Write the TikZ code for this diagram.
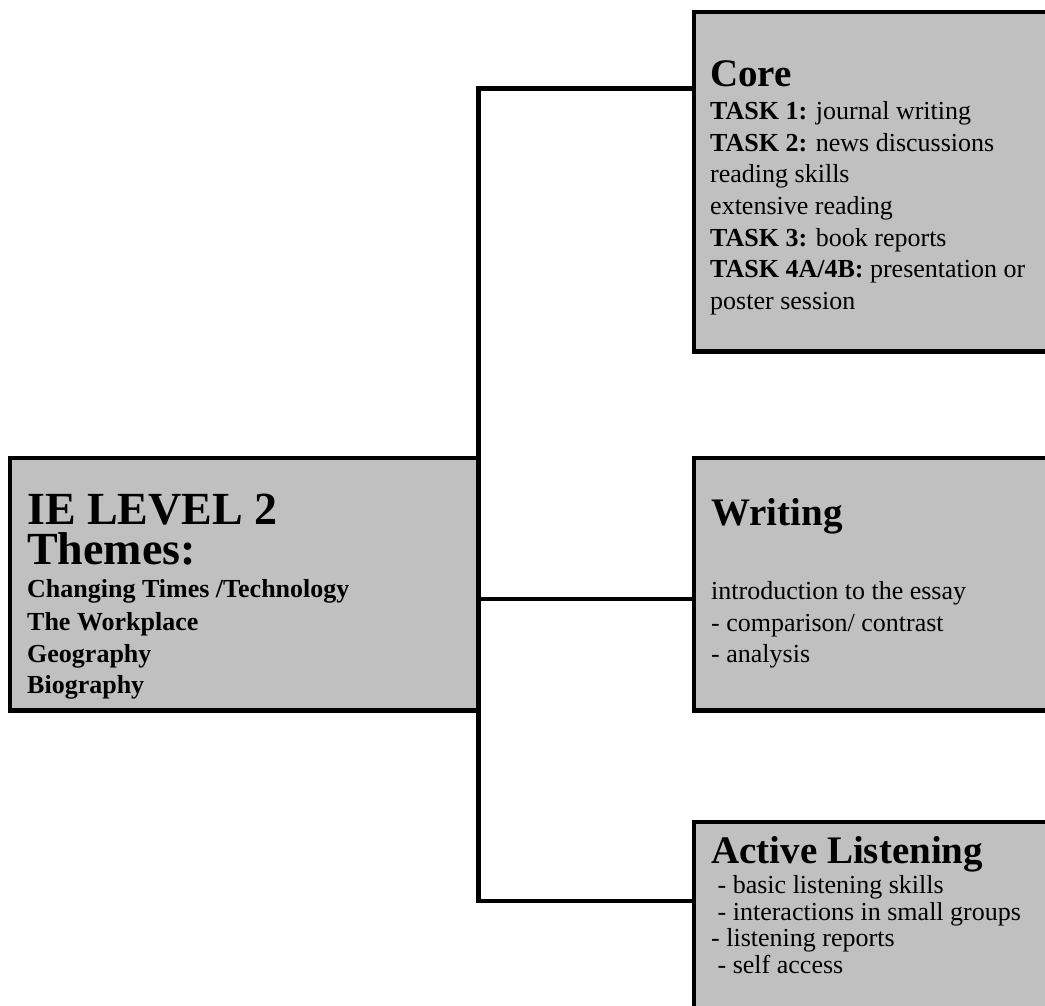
\documentclass[tikz,border=0pt]{standalone}
\usepackage{fontspec}
\setmainfont{Liberation Serif}
\definecolor{panelgray}{RGB}{192,192,192}
\tikzset{
  panel/.style={draw=black, fill=panelgray, line width=4.6pt, anchor=north west, inner sep=0pt, outer sep=0pt},
  link/.style={line width=4.6pt},
  bigtitle/.style={anchor=base west, inner sep=0pt, align=left, font=\fontsize{46}{40}\selectfont\bfseries},
  head/.style={anchor=base west, inner sep=0pt, font=\fontsize{39}{44}\selectfont\bfseries},
  entry/.style={anchor=base west, inner sep=0pt, font=\fontsize{26}{31}\selectfont},
  bentry/.style={entry, font=\fontsize{26}{31}\selectfont\bfseries}
}
\begin{document}
\begin{tikzpicture}[x=1pt, y=-1pt]
    \useasboundingbox (0,0) rectangle (1045,1005);
    \clip (0,0) rectangle (1045,1005);

    \node[panel, minimum width=468.5pt, minimum height=252.5pt] (themes) at (10,458) {};
    \node[panel, minimum width=400pt, minimum height=339.5pt] (core) at (694,12) {};
    \node[panel, minimum width=400pt, minimum height=252.5pt] (writing) at (694,458) {};
    \node[panel, minimum width=400pt, minimum height=300pt] (listening) at (694,822) {};

    \draw[link] (core.west |- 0,88.5) -| (themes.east |- 0,901) -- (listening.west |- 0,901);
    \draw[link] (themes.east |- 0,599) -- (writing.west |- 0,599);

    \node[bigtitle] (ie) at (27,564) {IE LEVEL 2\\Themes:};
    \node[bentry] (t1) at (27,597) {Changing Times /Technology};
    \node[bentry] (t2) at (27,630) {The Workplace};
    \node[bentry] (t3) at (27,662) {Geography};
    \node[bentry] (t4) at (27,693) {Biography};

    \node[head] (corehead) at (710,86) {Core};
    \node[entry] (c1) at (710,119.3) {\textbf{TASK 1:} journal writing};
    \node[entry] (c2) at (710,151) {\textbf{TASK 2:} news discussions};
    \node[entry] (c3) at (710,182.7) {reading skills};
    \node[entry] (c4) at (710,214.3) {extensive reading};
    \node[entry] (c5) at (710,246) {\textbf{TASK 3:} book reports};
    \node[entry] (c6) at (710,277.7) {\textbf{TASK 4A/4B:} presentation or};
    \node[entry] (c7) at (710,309.3) {poster session};

    \node[head] (writinghead) at (711,525) {Writing};
    \node[entry] (w1) at (711,599) {introduction to the essay};
    \node[entry] (w2) at (711,631) {- comparison/ contrast};
    \node[entry] (w3) at (711,662) {- analysis};

    \node[head] (listeninghead) at (711,863) {Active Listening};
    \node[entry] (l1) at (711,893.3) {\ - basic listening skills};
    \node[entry] (l2) at (711,920) {\ - interactions in small groups};
    \node[entry] (l3) at (711,946.7) {- listening reports};
    \node[entry] (l4) at (711,973.3) {\ - self access};
\end{tikzpicture}
\end{document}
